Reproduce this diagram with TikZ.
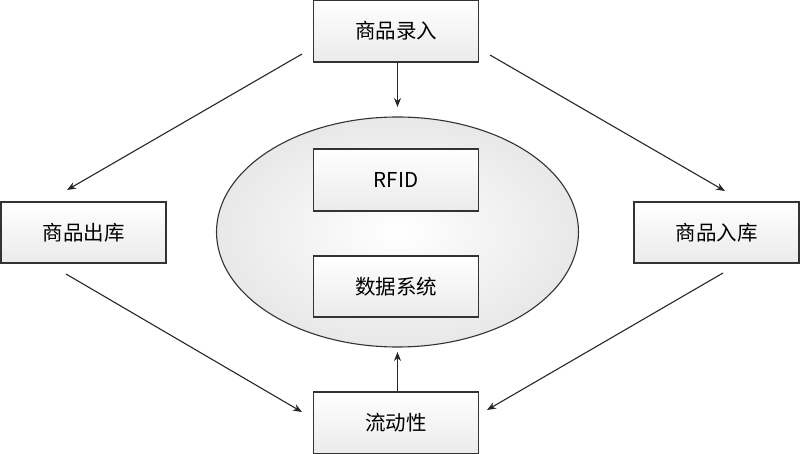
\documentclass[tikz,border=0pt]{standalone}
\usepackage{fontspec}
\setmainfont{Noto Sans CJK SC}
\usetikzlibrary{arrows.meta,shapes.geometric}
\begin{document}
\begin{tikzpicture}[x=1pt,y=-1pt,
  box/.style={draw=black!80,line width=1.1pt,minimum width=165pt,minimum height=61pt,
    inner sep=0pt,top color=white,bottom color=black!8,font=\fontsize{20.5}{22}\selectfont},
  arr/.style={draw=black!85,line width=1.1pt,-{Stealth[length=9pt,width=7pt]}}]
\useasboundingbox (0,0) rectangle (800,454);
\node[draw=black!80,line width=1.1pt,ellipse,inner color=white,outer color=black!9,
  minimum width=362pt,minimum height=230pt,inner sep=0pt] (ell) at (397.5,232) {};
\node[box,minimum height=62pt] (top) at (396,31) {商品录入};
\node[box] (left) at (83.5,232.5) {商品出库};
\node[box] (right) at (716.5,232.5) {商品入库};
\node[box,minimum height=62pt] (bot) at (396,423) {流动性};
\node[box,minimum height=62pt] (rfid) at (396,180) {RFID};
\node[box] (data) at (396,286.5) {数据系统};
\coordinate (a1s) at (302,54);
\coordinate (a1e) at (67,190);
\coordinate (a2s) at (66,274);
\coordinate (a2e) at (302,412);
\coordinate (a3s) at (490,55);
\coordinate (a3e) at (725,191);
\coordinate (a4s) at (723,273);
\coordinate (a4e) at (487,410);
\coordinate (v1e) at (397.5,107);
\coordinate (v2e) at (397.5,352);
\draw[arr] ([xshift=1.5pt]top.south) -- (v1e);
\draw[arr] ([xshift=1.5pt]bot.north) -- (v2e);
\draw[arr] (a1s) -- (a1e);
\draw[arr] (a2s) -- (a2e);
\draw[arr] (a3s) -- (a3e);
\draw[arr] (a4s) -- (a4e);
\end{tikzpicture}
\end{document}
